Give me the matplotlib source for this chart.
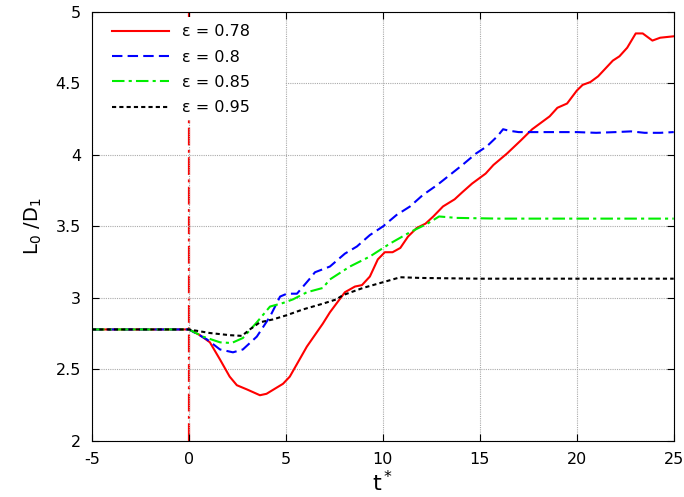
"""
Evolution de L0/D1 en fonction de t*
"""

import numpy as np
import matplotlib.pyplot as plt
from matplotlib.patches import Rectangle

plt.rcParams["axes.unicode_minus"] = False

# Données
t_078 = [-5, 0, 0.57, 1.08, 1.6, 2.1, 2.47, 3.0, 3.66, 4.0, 4.85, 5.2, 6.08, 6.9, 7.27, 8.04,
         8.56, 8.92, 9.33, 9.74, 10.1, 10.5, 10.9, 11.3, 11.75, 12.2, 12.6, 13.1, 13.7, 14.1,
         14.6, 15.3, 15.7, 16.4, 17.1, 17.7, 18.6, 19.0, 19.5, 20.0, 20.3, 20.7, 21.1, 21.86,
         22.2, 22.6, 23.04, 23.4, 23.9, 24.3, 25.0]
L_078 = [2.78, 2.78, 2.74, 2.69, 2.57, 2.45, 2.39, 2.36, 2.32, 2.33, 2.40, 2.45, 2.66, 2.82,
         2.90, 3.04, 3.08, 3.09, 3.15, 3.27, 3.32, 3.32, 3.35, 3.43, 3.49, 3.52, 3.57, 3.64,
         3.69, 3.74, 3.80, 3.87, 3.93, 4.01, 4.10, 4.18, 4.27, 4.33, 4.36, 4.45, 4.49, 4.51,
         4.55, 4.66, 4.69, 4.75, 4.85, 4.85, 4.80, 4.82, 4.83]

t_080 = [-5, 0, 0.93, 1.6, 2.27, 2.78, 3.5, 4.18, 4.7, 5.05, 5.57, 6.2, 6.5, 7.27, 8.04, 8.66,
         9.33, 10.0, 10.7, 11.4, 12.06, 12.8, 13.45, 14.1, 14.8, 15.36, 15.9, 16.2, 16.5, 17.0,
         17.6, 19.0, 20.0, 21.0, 22.0, 22.8, 23.5, 24.3, 25.0]
L_080 = [2.78, 2.78, 2.71, 2.64, 2.62, 2.64, 2.73, 2.87, 3.01, 3.03, 3.03, 3.13, 3.18, 3.22,
         3.31, 3.36, 3.44, 3.50, 3.58, 3.64, 3.72, 3.79, 3.86, 3.93, 4.01, 4.06, 4.13, 4.18,
         4.17, 4.16, 4.16, 4.16, 4.16, 4.155, 4.16, 4.165, 4.155, 4.155, 4.16]

t_085 = [-5, 0, 0.72, 1.6, 2.2, 2.78, 3.5, 4.18, 4.85, 5.36, 6.08, 6.9, 7.27, 8.3, 9.33, 10.36,
         11.4, 12.3, 12.9, 13.8, 16.0, 20.0, 25.0]
L_085 = [2.78, 2.78, 2.73, 2.69, 2.685, 2.72, 2.83, 2.94, 2.965, 2.99, 3.04, 3.07, 3.13, 3.22,
         3.29, 3.38, 3.46, 3.52, 3.57, 3.56, 3.555, 3.555, 3.555]

t_095 = [-5, 0, 1.08, 2.1, 2.73, 3.14, 3.66, 4.33, 5.05, 5.88, 6.9, 7.6, 7.94, 8.97, 10.0, 10.9,
         12.0, 15.0, 20.0, 25.0]
L_095 = [2.78, 2.78, 2.755, 2.74, 2.735, 2.78, 2.83, 2.85, 2.88, 2.92, 2.96, 2.99, 3.02, 3.07,
         3.11, 3.145, 3.14, 3.135, 3.135, 3.135]

series = [
    (t_078, L_078, "#ff0000", "-", r"ε = 0.78"),
    (t_080, L_080, "#0000ff", (0, (5, 2.5)), r"ε = 0.8"),
    (t_085, L_085, "#00ee00", (0, (6, 2, 1.5, 2)), r"ε = 0.85"),
    (t_095, L_095, "#000000", (0, (2, 1.5)), r"ε = 0.95"),
]

fig = plt.figure(figsize=(6.84, 4.97), dpi=100)
ax = fig.add_axes([0.1345, 0.1127, 0.8505, 0.8632])

for t, L, col, ls, lab in series:
    ax.plot(t, L, color=col, linestyle=ls, linewidth=1.5, label=lab)

# Ligne verticale à t* = 0
ax.axvline(0, color="#ff0000", linestyle=(0, (8, 2, 1.3, 2)), linewidth=1.6, zorder=1)

ax.set_xlim(-5, 25)
ax.set_ylim(2, 5)
ax.set_xticks(np.arange(-5, 26, 5))
ax.set_yticks(np.arange(2, 5.01, 0.5))
ax.set_yticklabels(["2", "2.5", "3", "3.5", "4", "4.5", "5"])
ax.grid(True, color="#aaaaaa", linestyle=(0, (1, 1)), linewidth=0.8)
ax.tick_params(direction="in", top=True, right=True, labelsize=11.5, pad=8, length=5)

ax.set_xlabel(r"t$^*$", fontsize=16, labelpad=2)
ax.set_ylabel(r"L$_0$ /D$_1$", fontsize=14, labelpad=8)

# Fond blanc derrière la légende (masque la grille et la ligne verticale)
ax.add_patch(Rectangle((0.002, 0.748), 0.33, 0.24, transform=ax.transAxes,
                       facecolor="white", edgecolor="none", zorder=2.5))

leg = ax.legend(loc="upper left", bbox_to_anchor=(0.01, 1.005), frameon=False,
                fontsize=11.5, handlelength=3.55, labelspacing=0.65,
                borderaxespad=0.4, handletextpad=0.8, borderpad=0.5)
leg.set_zorder(3)

fig.savefig("out.png", dpi=100)
